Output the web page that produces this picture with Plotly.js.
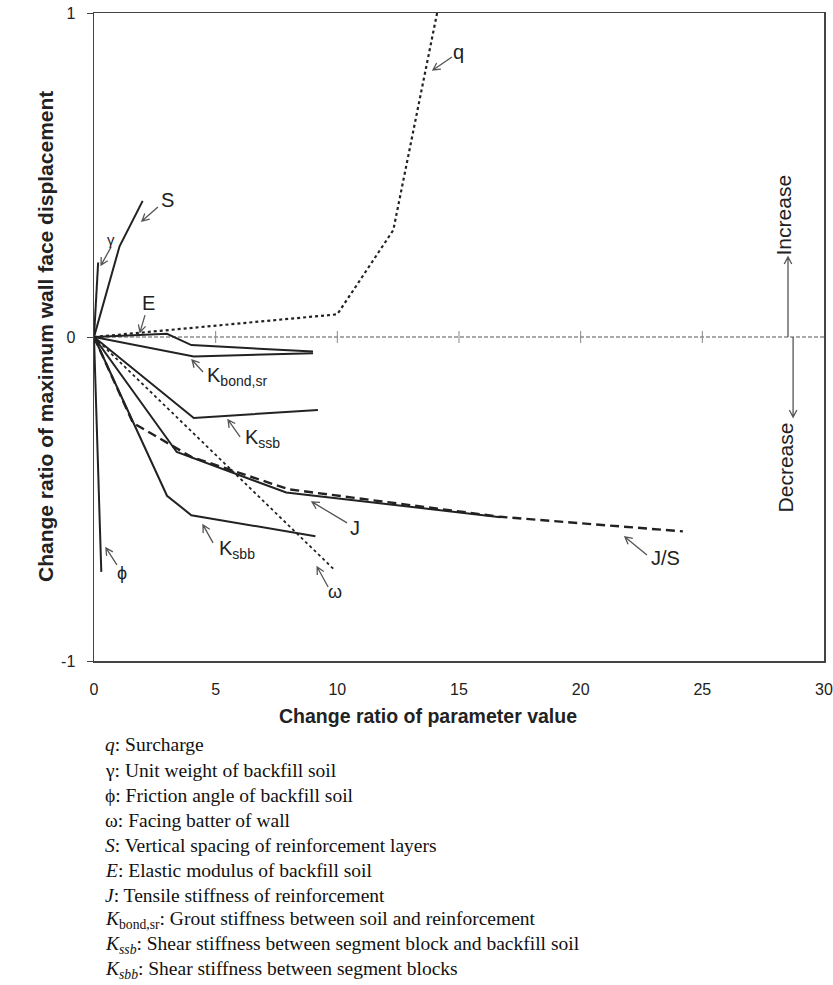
<!DOCTYPE html>
<html>
<head>
<meta charset="utf-8">
<script src="https://cdn.plot.ly/plotly-3.0.1.min.js"></script>
<style>
  html, body { margin: 0; padding: 0; background: #fff; }
  #chart { width: 833px; height: 985px; }
</style>
</head>
<body>
<div id="chart"></div>
<script>
// Parametric sensitivity curves: change ratio of parameter value (x)
// versus change ratio of maximum wall face displacement (y).
const qX = [0, 10, 12.3, 14.1];
const qY = [0, 0.07, 0.33, 1.0];
const sX = [0, 1.05, 2.0];
const sY = [0, 0.28, 0.42];
const gammaX = [0, 0.17];
const gammaY = [0, 0.23];
const eX = [0, 3, 4, 9];
const eY = [0, 0.01, -0.025, -0.045];
const kbondX = [0, 4.1, 9];
const kbondY = [0, -0.06, -0.05];
const kssbX = [0, 4.1, 9.2];
const kssbY = [0, -0.25, -0.225];
const jX = [0, 3.4, 7.9, 16.7];
const jY = [0, -0.355, -0.48, -0.556];
const jsX = [0, 1.6, 4, 8, 16.7, 24.2];
const jsY = [0, -0.265, -0.37, -0.47, -0.555, -0.60];
const ksbbX = [0, 3, 4, 9.1];
const ksbbY = [0, -0.49, -0.55, -0.615];
const omegaX = [0, 9.9];
const omegaY = [0, -0.72];
const phiX = [0, 0.3];
const phiY = [0, -0.725];

const xTicks = [0, 5, 10, 15, 20, 25, 30];
const yTicks = [-1, 0, 1];
const zeroLineTicks = [5, 10, 15, 20, 25];

// Curve labels: text, text anchor, arrow head point, arrow tail offset (px, screen)
const curveLabels = [
  {text: 'q', tx: 14.96, ty: 0.88, anchor: 'center', size: 20, hx: 13.93, hy: 0.824, dx: 19, dy: -13},
  {text: 'S', tx: 3.0, ty: 0.423, anchor: 'center', size: 20, hx: 1.97, hy: 0.358, dx: 16, dy: -14},
  {text: 'γ', tx: 0.70, ty: 0.302, anchor: 'center', size: 15, hx: 0.29, hy: 0.222, dx: 10, dy: -18},
  {text: 'E', tx: 2.22, ty: 0.105, anchor: 'center', size: 20, hx: 1.89, hy: 0.015, dx: 5, dy: -17},
  {text: 'K<sub>bond,sr</sub>', tx: 4.56, ty: -0.123, anchor: 'left', size: 20, hx: 4.03, hy: -0.071, dx: 11, dy: 12},
  {text: 'K<sub>ssb</sub>', tx: 6.12, ty: -0.312, anchor: 'left', size: 20, hx: 5.51, hy: -0.256, dx: 12, dy: 17},
  {text: 'J', tx: 10.73, ty: -0.59, anchor: 'center', size: 20, hx: 8.96, hy: -0.509, dx: 35, dy: 21},
  {text: 'K<sub>sbb</sub>', tx: 5.06, ty: -0.657, anchor: 'left', size: 20, hx: 4.48, hy: -0.58, dx: 10, dy: 18},
  {text: 'ω', tx: 9.9, ty: -0.787, anchor: 'center', size: 18, hx: 9.17, hy: -0.71, dx: 11, dy: 20},
  {text: 'ϕ', tx: 1.15, ty: -0.728, anchor: 'center', size: 18, hx: 0.49, hy: -0.651, dx: 11, dy: 17},
  {text: 'J/S', tx: 23.47, ty: -0.682, anchor: 'center', size: 20, hx: 21.82, hy: -0.617, dx: 22, dy: 18}
];

const legendSymbols = ['<i>q</i>', 'γ', 'ϕ', 'ω', '<i>S</i>', '<i>E</i>', '<i>J</i>',
  '<i>K</i><sub>bond,sr</sub>', '<i>K<sub>ssb</sub></i>', '<i>K<sub>sbb</sub></i>'];
const legendTexts = ['Surcharge', 'Unit weight of backfill soil', 'Friction angle of backfill soil',
  'Facing batter of wall', 'Vertical spacing of reinforcement layers', 'Elastic modulus of backfill soil',
  'Tensile stiffness of reinforcement', 'Grout stiffness between soil and reinforcement',
  'Shear stiffness between segment block and backfill soil', 'Shear stiffness between segment blocks'];

const INK = '#222';
const ARROW = '#555';
const SANS = 'Liberation Sans, Arial, sans-serif';
const SERIF = 'Liberation Serif, Times New Roman, serif';

function curve(x, y, dash, width) {
  return {x: x, y: y, type: 'scatter', mode: 'lines', hoverinfo: 'skip',
    line: {color: INK, width: width || 2, dash: dash || 'solid'}};
}

const traces = [
  curve(qX, qY, 'dot', 2.2),
  curve(sX, sY),
  curve(gammaX, gammaY),
  curve(eX, eY),
  curve(kbondX, kbondY),
  curve(kssbX, kssbY),
  curve(jX, jY),
  curve(jsX, jsY, '9px,5px', 2.4),
  curve(ksbbX, ksbbY),
  curve(omegaX, omegaY, 'dot', 1.8),
  curve(phiX, phiY)
];

// Open "V" arrow drawn in pixels around a head point given in data units.
function openArrow(hx, hy, dx, dy, color) {
  const len = Math.hypot(dx, dy);
  const ux = dx / len, uy = dy / len;
  const wing = 8, ang = 28 * Math.PI / 180;
  const w1x = wing * (ux * Math.cos(ang) - uy * Math.sin(ang));
  const w1y = wing * (ux * Math.sin(ang) + uy * Math.cos(ang));
  const w2x = wing * (ux * Math.cos(-ang) - uy * Math.sin(-ang));
  const w2y = wing * (ux * Math.sin(-ang) + uy * Math.cos(-ang));
  const p = (a, b) => a.toFixed(2) + ',' + (-b).toFixed(2);
  return {
    type: 'path', xref: 'x', yref: 'y', xsizemode: 'pixel', ysizemode: 'pixel',
    xanchor: hx, yanchor: hy, layer: 'above',
    path: 'M' + p(dx, dy) + ' L0,0 M' + p(w1x, w1y) + ' L0,0 L' + p(w2x, w2y),
    line: {color: color || ARROW, width: 1.3}
  };
}

const shapes = [];
// dashed zero line with its tick marks
shapes.push({type: 'line', xref: 'x', yref: 'y', x0: 0, x1: 30, y0: 0, y1: 0,
  line: {color: '#555', width: 1.2, dash: '4px,2px'}, layer: 'below'});
zeroLineTicks.forEach(t => shapes.push({type: 'line', xref: 'x', yref: 'y', ysizemode: 'pixel',
  yanchor: 0, x0: t, x1: t, y0: -6, y1: 6, line: {color: '#888', width: 1}}));

curveLabels.forEach(l => shapes.push(openArrow(l.hx, l.hy, l.dx, l.dy)));

// Increase / Decrease indicator arrows
shapes.push(openArrow(28.52, 0.247, 0, 80, '#555'));
shapes.push(openArrow(28.73, -0.247, 0, -80, '#555'));

const annotations = [];
curveLabels.forEach(l => annotations.push({
  x: l.tx, y: l.ty, xref: 'x', yref: 'y', text: l.text, showarrow: false,
  xanchor: l.anchor, yanchor: 'middle', font: {family: SANS, size: l.size, color: INK}
}));
annotations.push({x: 28.34, y: 0.377, xref: 'x', yref: 'y', text: 'Increase', textangle: -90,
  showarrow: false, font: {family: SANS, size: 21, color: INK}});
annotations.push({x: 28.42, y: -0.404, xref: 'x', yref: 'y', text: 'Decrease', textangle: -90,
  showarrow: false, font: {family: SANS, size: 21, color: INK}});

// Axis titles placed in paper units relative to the plot frame
const plotL = 94, plotW = 730, plotT = 13, plotB = 661, plotH = 648;
annotations.push({xref: 'paper', yref: 'paper', x: (428 - plotL) / plotW, y: (plotB - 716) / plotH,
  xanchor: 'center', yanchor: 'middle', showarrow: false,
  text: '<b>Change ratio of parameter value</b>', font: {family: SANS, size: 19.5, color: '#222'}});
annotations.push({xref: 'paper', yref: 'paper', x: (45 - plotL) / plotW, y: (plotB - 337) / plotH,
  xanchor: 'center', yanchor: 'middle', showarrow: false, textangle: -90,
  text: '<b>Change ratio of maximum wall face displacement</b>', font: {family: SANS, size: 21, color: '#222'}});

// Symbol list below the chart
legendSymbols.forEach((s, i) => {
  const py = 745 + i * 25;
  annotations.push({
    xref: 'paper', yref: 'paper', x: (103 - plotL) / plotW, y: (plotB - py) / plotH,
    xanchor: 'left', yanchor: 'middle', showarrow: false, align: 'left',
    text: s + ': ' + legendTexts[i],
    font: {family: SERIF, size: 19.5, color: '#111'}
  });
});

const layout = {
  width: 833, height: 985,
  margin: {l: 94, r: 9, t: plotT, b: 324},
  paper_bgcolor: '#fff', plot_bgcolor: '#fff',
  showlegend: false,
  xaxis: {
    range: [0, 30], tickvals: xTicks, ticktext: xTicks.map(String),
    showline: true, mirror: true, linecolor: '#444', linewidth: 1.5,
    showgrid: false, zeroline: false, ticks: '', ticklabelstandoff: 13,
    tickfont: {family: SANS, size: 16, color: '#222'}
  },
  yaxis: {
    range: [-1, 1], tickvals: yTicks, ticktext: yTicks.map(String),
    showline: true, mirror: true, linecolor: '#444', linewidth: 1.5,
    showgrid: false, zeroline: false, ticks: 'outside', ticklen: 6, tickcolor: '#444',
    ticklabelstandoff: 8,
    tickfont: {family: SANS, size: 16, color: '#222'}
  },
  shapes: shapes,
  annotations: annotations
};

Plotly.newPlot('chart', traces, layout, {staticPlot: true, displayModeBar: false});
</script>
</body>
</html>
